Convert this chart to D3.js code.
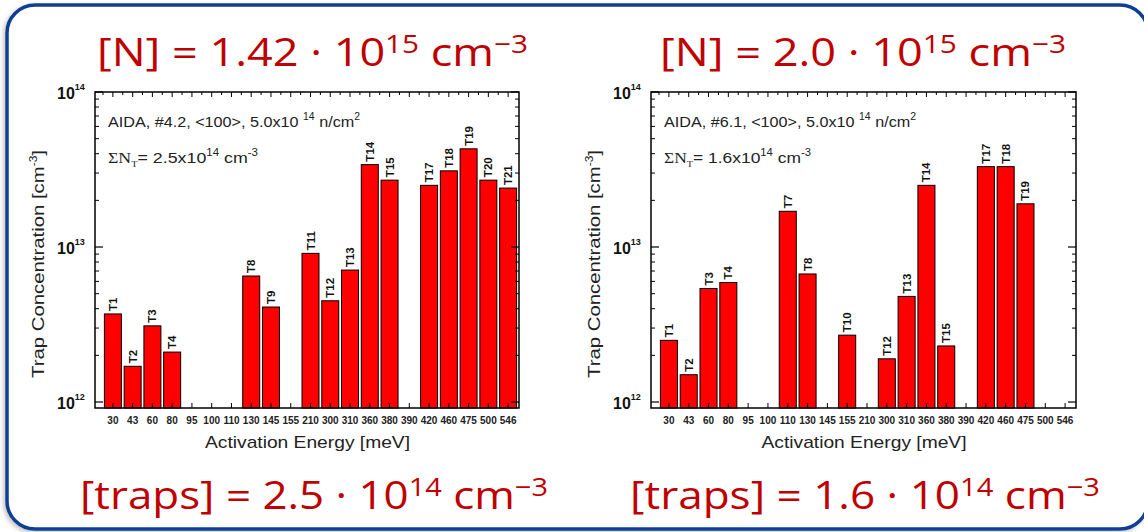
<!DOCTYPE html>
<html>
<head>
<meta charset="utf-8">
<script src="https://cdn.jsdelivr.net/npm/d3@7"></script>
<style>
  html, body { margin: 0; padding: 0; background: #ffffff; }
  svg { display: block; }
</style>
</head>
<body>
<svg id="chart" width="1144" height="532"></svg>
<script>
// ---------------- data ----------------
const categories = ["30","43","60","80","95","100","110","130","145","155","210","300","310","360","380","390","420","460","475","500","546"];

const leftTraps    = ["T1","T2","T3","T4","T8","T9","T11","T12","T13","T14","T15","T17","T18","T19","T20","T21"];
const leftEnergies = ["30","43","60","80","130","145","210","300","310","360","380","420","460","475","500","546"];
const leftValues   = [3.7e12,1.7e12,3.1e12,2.1e12,6.5e12,4.1e12,9.1e12,4.5e12,7.1e12,3.4e13,2.7e13,2.5e13,3.1e13,4.3e13,2.7e13,2.4e13];

const rightTraps    = ["T1","T2","T3","T4","T7","T8","T10","T12","T13","T14","T15","T17","T18","T19"];
const rightEnergies = ["30","43","60","80","110","130","155","300","310","360","380","420","460","475"];
const rightValues   = [2.5e12,1.5e12,5.4e12,5.9e12,1.7e13,6.7e12,2.7e12,1.9e12,4.8e12,2.5e13,2.3e12,3.3e13,3.3e13,1.9e13];

const yTickValues = [1e12, 1e13, 1e14];
const yTickExps   = ["12","13","14"];

const topTitles    = [["[N] = 1.42 · 10","15"," cm","−3"], ["[N] = 2.0 · 10","15"," cm","−3"]];
const bottomTitles = [["[traps] = 2.5 · 10","14"," cm","−3"], ["[traps] = 1.6 · 10","14"," cm","−3"]];
const sampleNotes  = ["AIDA, #4.2, <100>, 5.0x10", "AIDA, #6.1, <100>, 5.0x10"];
const sumNotes     = ["2.5x10", "1.6x10"];
const xAxisTitle = "Activation Energy [meV]";
const yAxisTitle = "Trap Concentration [cm";

// ---------------- drawing ----------------
const svg = d3.select("#chart");
const defs = svg.append("defs");
const f = defs.append("filter").attr("id","shadow").attr("x","-5%").attr("y","-5%").attr("width","110%").attr("height","110%");
f.append("feDropShadow").attr("dx",-2).attr("dy",2).attr("stdDeviation",2).attr("flood-color","#888").attr("flood-opacity",0.5);

svg.append("rect")
  .attr("x",7).attr("y",5).attr("width",1141).attr("height",524)
  .attr("rx",28).attr("ry",28)
  .attr("fill","#ffffff").attr("stroke","#0b3f94").attr("stroke-width",3.5)
  .attr("filter","url(#shadow)");

const titleColor = "#c00000";
function bigTitle(parts, x0, x1, baseline, size) {
  const t = svg.append("text")
    .attr("x", x0).attr("y", baseline)
    .attr("font-family","'Open Sans', Lato, sans-serif").attr("font-weight",380)
    .attr("font-size", size).attr("fill", titleColor)
    .attr("textLength", x1 - x0).attr("lengthAdjust","spacingAndGlyphs");
  t.append("tspan").text(parts[0]);
  t.append("tspan").attr("font-size", size*0.66).attr("dy", -size*0.34).text(parts[1]);
  t.append("tspan").attr("dy", size*0.34).text(parts[2]);
  t.append("tspan").attr("font-size", size*0.66).attr("dy", -size*0.34).text(parts[3]);
}
bigTitle(topTitles[0], 97, 528, 66, 38);
bigTitle(topTitles[1], 660, 1066, 66, 38);
bigTitle(bottomTitles[0], 80, 548, 509, 38);
bigTitle(bottomTitles[1], 630, 1100, 509, 38);

const axisFont = "Arial, 'Liberation Sans', sans-serif";

function panel(cfg) {
  const {x0, x1, y0, y1} = cfg;
  const g = svg.append("g");
  const x = d3.scaleBand().domain(categories).range([x0 + 8, x1 - 1]).paddingInner(0.14).paddingOuter(0.07);
  const y = d3.scaleLog().domain([0.915e12, 1e14]).range([y1, y0]);

  // bars
  const data = cfg.energies.map((e,i) => ({e, v: cfg.values[i], t: cfg.traps[i]}));
  g.selectAll("rect.bar").data(data).join("rect")
    .attr("class","bar")
    .attr("x", d => x(d.e)).attr("width", x.bandwidth())
    .attr("y", d => y(d.v)).attr("height", d => y1 - y(d.v))
    .attr("fill","#ff0000").attr("stroke","#000").attr("stroke-width",1);
  g.selectAll("text.lab").data(data).join("text")
    .attr("class","lab")
    .attr("transform", d => `translate(${x(d.e) + x.bandwidth()/2 + 4},${y(d.v) - 3}) rotate(-90)`)
    .attr("font-family",axisFont)
    .attr("font-size",11.5).attr("font-weight","bold").attr("fill","#111")
    .text(d => d.t);

  // frame
  g.append("rect").attr("x",x0).attr("y",y0).attr("width",x1-x0).attr("height",y1-y0)
    .attr("fill","none").attr("stroke","#000").attr("stroke-width",1.5);

  // x ticks
  const centers = categories.map(c => x(c) + x.bandwidth()/2);
  const bounds = categories.map(c => x(c) - x.step()*x.paddingInner()/2);
  centers.forEach(cx => {
    g.append("line").attr("x1",cx).attr("x2",cx).attr("y1",y1).attr("y2",y1-5).attr("stroke","#000");
    g.append("line").attr("x1",cx).attr("x2",cx).attr("y1",y0).attr("y2",y0+5).attr("stroke","#000");
  });
  bounds.forEach(bx => {
    g.append("line").attr("x1",bx).attr("x2",bx).attr("y1",y0).attr("y2",y0+3).attr("stroke","#000");
  });
  const xAxis = d3.axisBottom(x).tickSize(0).tickPadding(9);
  const xa = g.append("g").attr("transform",`translate(0,${y1})`).call(xAxis);
  xa.select(".domain").remove();
  xa.selectAll("text").attr("font-family",axisFont)
    .attr("font-size",10).attr("font-weight","bold").attr("fill","#222");

  // y ticks
  const minors = [];
  [1e12,1e13].forEach(d => { for (let k=2;k<=9;k++) minors.push(d*k); });
  minors.forEach(v => {
    g.append("line").attr("x1",x0).attr("x2",x0+4).attr("y1",y(v)).attr("y2",y(v)).attr("stroke","#000");
    g.append("line").attr("x1",x1).attr("x2",x1-4).attr("y1",y(v)).attr("y2",y(v)).attr("stroke","#000");
  });
  yTickValues.forEach((v,i) => {
    g.append("line").attr("x1",x0).attr("x2",x0+8).attr("y1",y(v)).attr("y2",y(v)).attr("stroke","#000").attr("stroke-width",1.2);
    g.append("line").attr("x1",x1).attr("x2",x1-8).attr("y1",y(v)).attr("y2",y(v)).attr("stroke","#000").attr("stroke-width",1.2);
    const t = g.append("text").attr("x", x0 - 38).attr("y", y(v) + 7)
      .attr("font-family",axisFont).attr("font-weight","bold")
      .attr("font-size",16).attr("fill","#111");
    t.append("tspan").text("10");
    t.append("tspan").attr("font-size",9).attr("dy",-9).text(yTickExps[i]);
  });

  // axis titles
  g.append("text").attr("x",(x0+x1)/2 - 102).attr("y",y1+40)
    .attr("textLength",205).attr("lengthAdjust","spacingAndGlyphs")
    .attr("font-family",axisFont).attr("font-size",17).attr("fill","#222")
    .text(xAxisTitle);
  const yt = g.append("text").attr("transform",`translate(${x0-51},${y0+286}) rotate(-90)`)
    .attr("textLength",228).attr("lengthAdjust","spacingAndGlyphs")
    .attr("font-family",axisFont).attr("font-size",17).attr("fill","#222");
  yt.append("tspan").text(yAxisTitle);
  yt.append("tspan").attr("font-size",10).attr("dy",-7).text("-3");
  yt.append("tspan").attr("dy",7).text("]");

  // annotations
  const a1 = g.append("text").attr("x",x0+13).attr("y",y0+35)
    .attr("textLength",cfg.noteLen).attr("lengthAdjust","spacingAndGlyphs")
    .attr("font-family",axisFont).attr("font-size",15.5).attr("fill","#222");
  a1.append("tspan").text(cfg.note + " ");
  a1.append("tspan").attr("font-size",10).attr("dy",-7).text("14");
  a1.append("tspan").attr("dy",7).text(" n/cm");
  a1.append("tspan").attr("font-size",10).attr("dy",-7).text("2");

  const a2 = g.append("text").attr("x",x0+13).attr("y",y0+71)
    .attr("textLength",cfg.sumLen).attr("lengthAdjust","spacingAndGlyphs")
    .attr("font-family",axisFont).attr("font-size",15.5).attr("fill","#222");
  a2.append("tspan").attr("font-family","'Liberation Serif', 'DejaVu Serif', serif").text("ΣN");
  a2.append("tspan").attr("font-family","'Liberation Serif', serif").attr("font-size",9).attr("dy",4).text("T");
  a2.append("tspan").attr("dy",-4).text("= " + cfg.sum);
  a2.append("tspan").attr("font-size",10).attr("dy",-7).text("14");
  a2.append("tspan").attr("dy",7).text(" cm");
  a2.append("tspan").attr("font-size",10).attr("dy",-7).text("-3");
}

panel({x0:95, x1:519, y0:92, y1:408, traps:leftTraps, energies:leftEnergies, values:leftValues, note:sampleNotes[0], sum:sumNotes[0], noteLen:252, sumLen:150});
panel({x0:651, x1:1076, y0:92, y1:408, traps:rightTraps, energies:rightEnergies, values:rightValues, note:sampleNotes[1], sum:sumNotes[1], noteLen:252, sumLen:147});
</script>
</body>
</html>
